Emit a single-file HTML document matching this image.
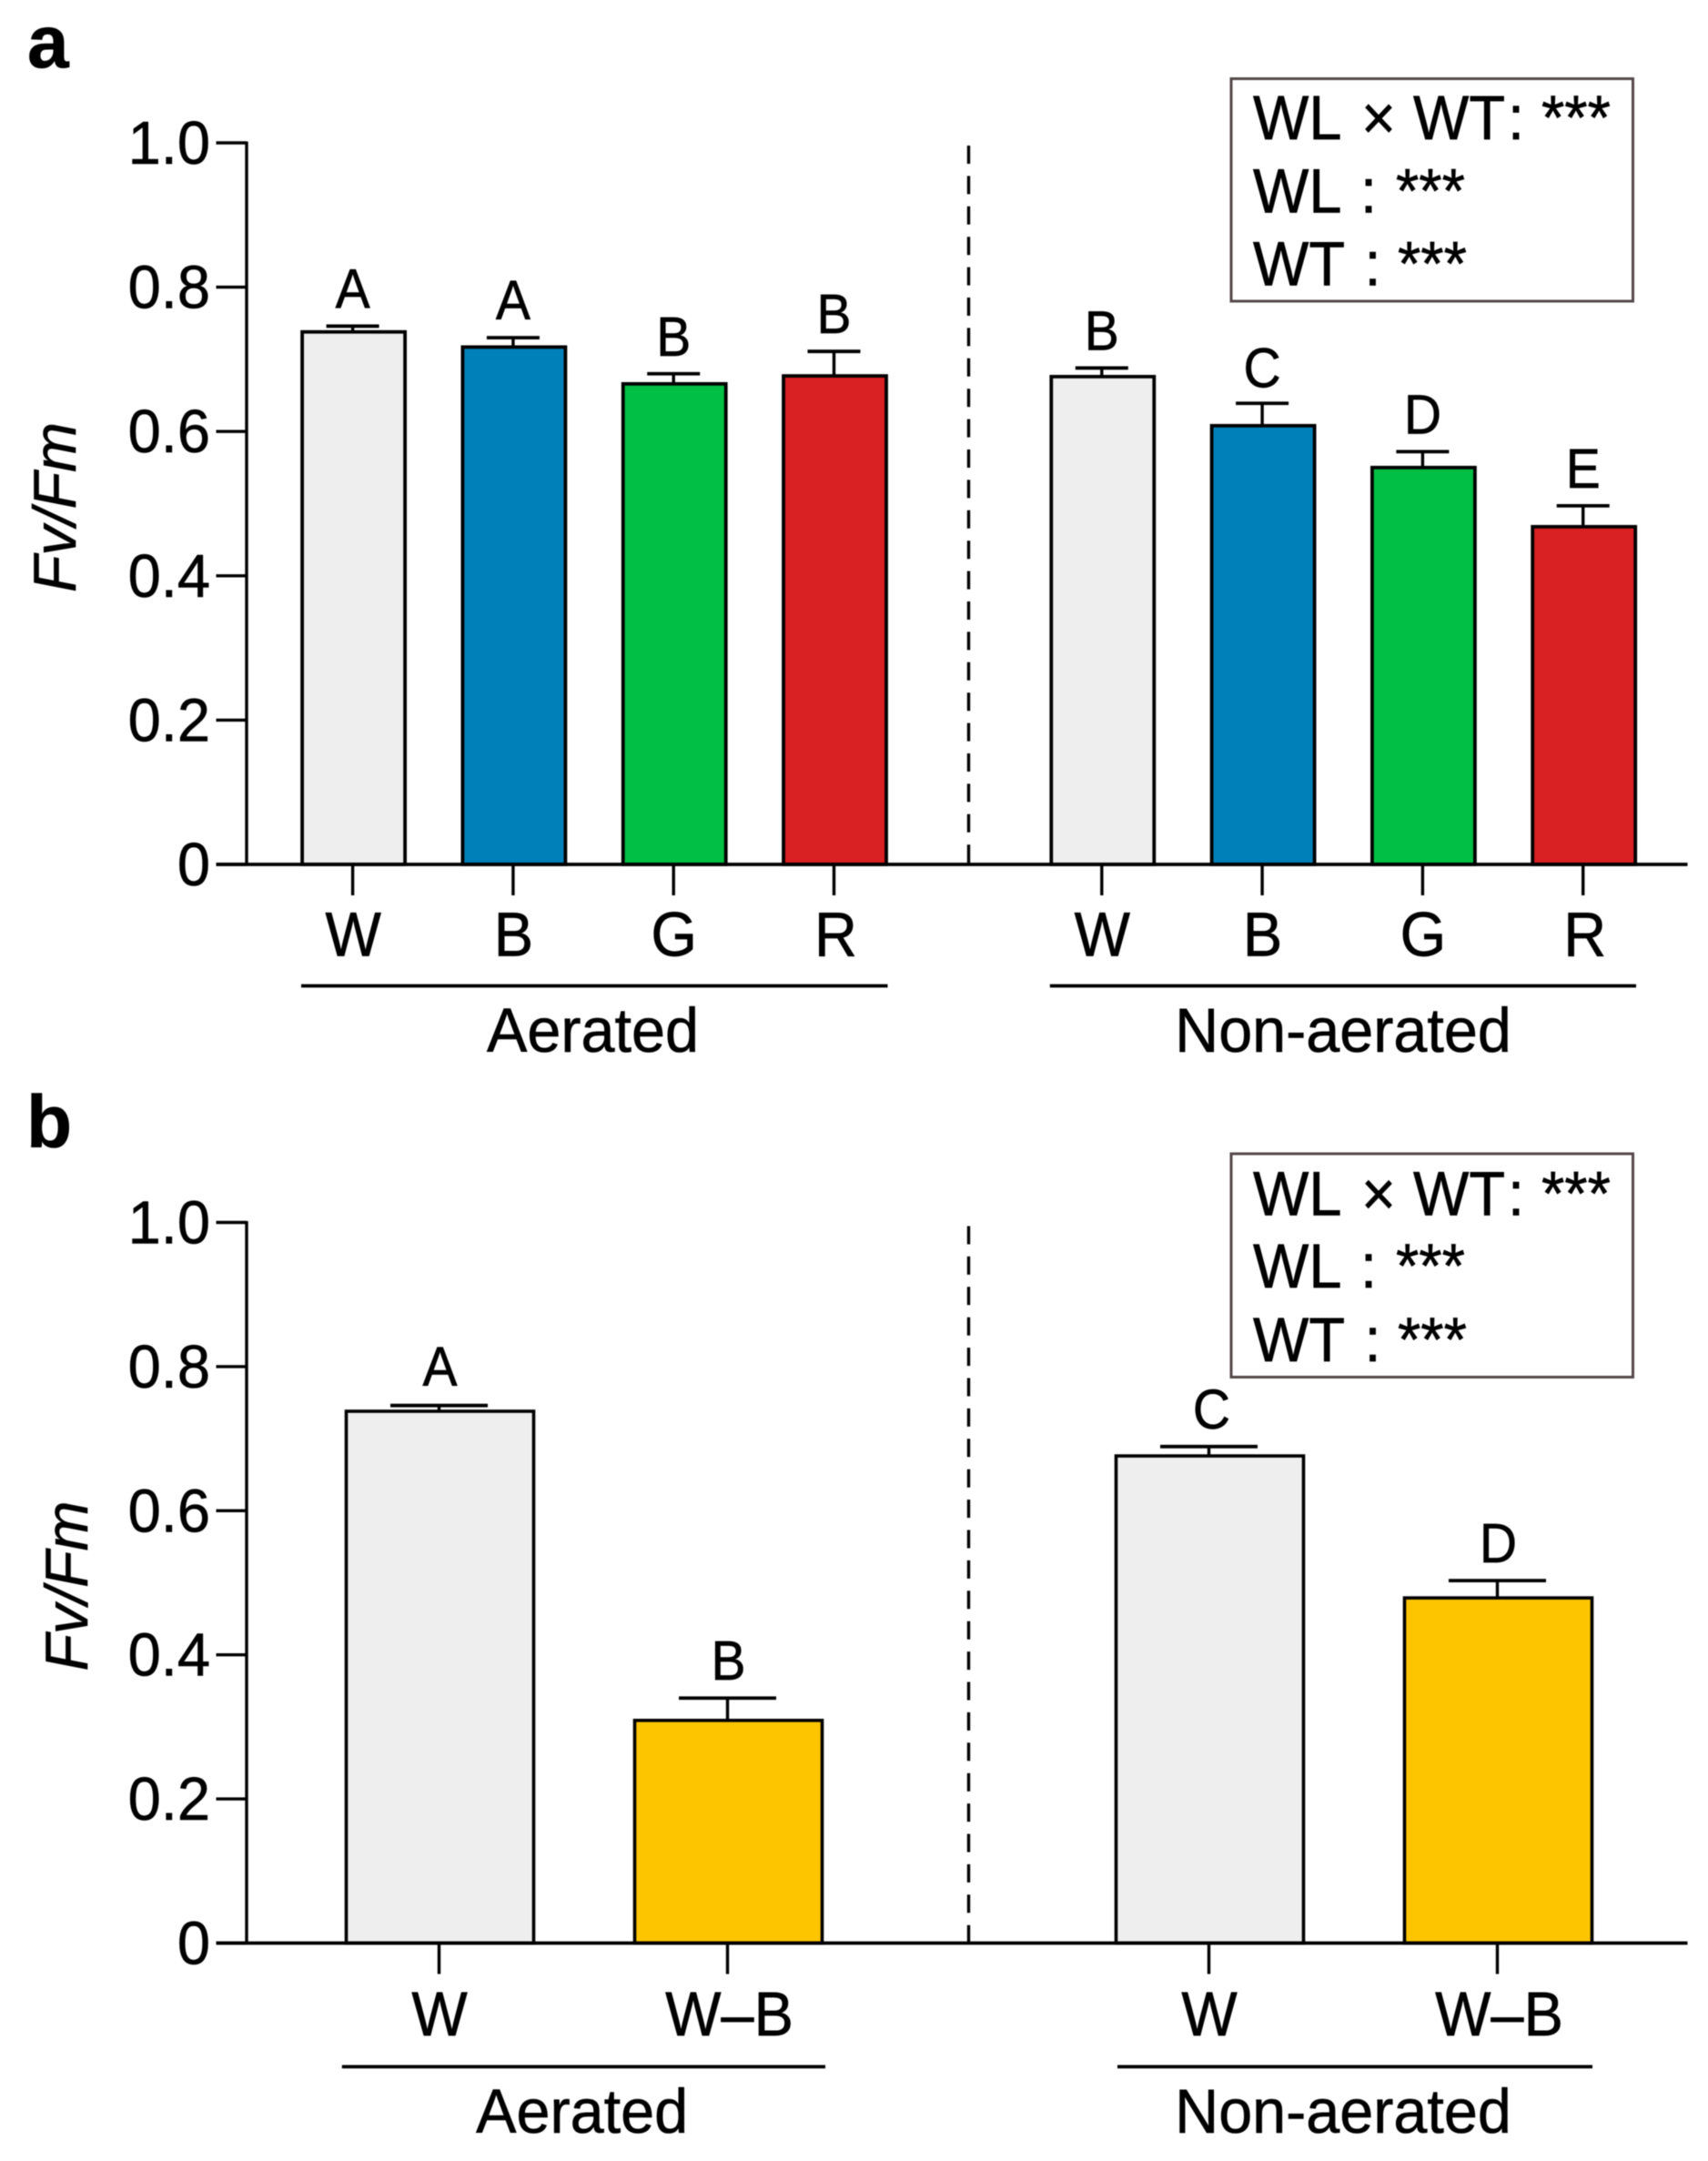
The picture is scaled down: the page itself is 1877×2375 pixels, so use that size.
<!DOCTYPE html>
<html lang="en">
<head>
<meta charset="utf-8">
<title>Fv/Fm bar charts</title>
<style>
  html, body { margin: 0; padding: 0; background: #fff; }
  svg { display: block; filter: blur(0.5px); }
  text { font-family: "Liberation Sans", Arial, sans-serif; fill: #000; stroke: #000; stroke-width: 0.6px; }
</style>
</head>
<body>
<svg id="figure" xmlns="http://www.w3.org/2000/svg" width="1877" height="2375" viewBox="0 0 1877 2375">
  <rect x="0" y="0" width="1877" height="2375" fill="#fff"/>
  <g id="panel-a"></g>
  <g id="panel-b"></g>

  <text x="30" y="74" font-size="82" font-weight="bold">a</text>
  <text x="29" y="1261" font-size="82" font-weight="bold">b</text>

  <text transform="translate(83,557.5) rotate(-90)" text-anchor="middle" font-size="66" font-style="italic">Fv/Fm</text>
  <text transform="translate(96,1743) rotate(-90)" text-anchor="middle" font-size="66" font-style="italic">Fv/Fm</text>

  <g>
    <rect x="1353" y="86.5" width="441.5" height="244.5" fill="#fff" stroke="#54484a" stroke-width="3"/>
    <text transform="translate(0,153) scale(1,1.05)" font-size="65"><tspan x="1377">WL</tspan><tspan x="1496">×</tspan><tspan x="1553">WT</tspan><tspan x="1657">:</tspan><tspan x="1694">***</tspan></text>
    <text transform="translate(0,233.4) scale(1,1.05)" font-size="65"><tspan x="1377">WL</tspan><tspan x="1495">:</tspan><tspan x="1534">***</tspan></text>
    <text transform="translate(0,313.5) scale(1,1.05)" font-size="65"><tspan x="1377">WT</tspan><tspan x="1499.5">:</tspan><tspan x="1536">***</tspan></text>
  </g>
  <g>
    <rect x="1353" y="1268" width="441.5" height="245.5" fill="#fff" stroke="#54484a" stroke-width="3"/>
    <text transform="translate(0,1335.5) scale(1,1.05)" font-size="65"><tspan x="1377">WL</tspan><tspan x="1496">×</tspan><tspan x="1553">WT</tspan><tspan x="1657">:</tspan><tspan x="1694">***</tspan></text>
    <text transform="translate(0,1415) scale(1,1.05)" font-size="65"><tspan x="1377">WL</tspan><tspan x="1495">:</tspan><tspan x="1534">***</tspan></text>
    <text transform="translate(0,1496) scale(1,1.05)" font-size="65"><tspan x="1377">WT</tspan><tspan x="1499.5">:</tspan><tspan x="1536">***</tspan></text>
  </g>
</svg>

<script>
// ---- shared axis tick labels ----
const yTickValues = [0, 0.2, 0.4, 0.6, 0.8, 1.0];
const yTickLabels = ["0", "0.2", "0.4", "0.6", "0.8", "1.0"];

// ---- panel a data ----
const aCategories = ["W", "B", "G", "R", "W", "B", "G", "R"];
const aValues = [0.738, 0.717, 0.666, 0.677, 0.676, 0.608, 0.550, 0.468];
const aErrors = [0.008, 0.013, 0.014, 0.034, 0.012, 0.031, 0.022, 0.029];
const aLetters = ["A", "A", "B", "B", "B", "C", "D", "E"];

// ---- panel b data ----
const bCategories = ["W", "W–B", "W", "W–B"];
const bValues = [0.738, 0.309, 0.676, 0.479];
const bErrors = [0.008, 0.031, 0.013, 0.024];
const bLetters = ["A", "B", "C", "D"];

// ---- appearance by category ----
const fillByCategory = { "W": "#eeeeee", "B": "#0080b8", "G": "#00bf44", "R": "#d92023", "W–B": "#fcc500" };

const NS = "http://www.w3.org/2000/svg";

function line(parent, x1, y1, x2, y2, width, name) {
  const el = document.createElementNS(NS, "line");
  el.setAttribute("x1", x1);
  el.setAttribute("y1", y1);
  el.setAttribute("x2", x2);
  el.setAttribute("y2", y2);
  el.setAttribute("stroke", "#000");
  el.setAttribute("stroke-width", width);
  
  
  parent.appendChild(el);
  return el;
}

function label(parent, str, x, y, size, stretch, anchor, name) {
  const el = document.createElementNS(NS, "text");
  el.setAttribute("transform", "translate(" + x + "," + y + ") scale(1," + stretch + ")");
  el.setAttribute("font-size", size);
  el.setAttribute("text-anchor", anchor);
  el.textContent = str;
  
  
  parent.appendChild(el);
  return el;
}

function drawPanel(cfg) {
  const g = document.getElementById(cfg.id);
  const yScale = function (v) { return cfg.yZero - (cfg.yZero - cfg.yTop) * v; };

  // divider
  const divider = line(g, 1064.5, cfg.dashTop, 1064.5, cfg.yZero, 3.4, "group-divider");
  divider.setAttribute("stroke-dasharray", "20 13.4");

  // bars and error bars
  cfg.values.forEach(function (v, i) {
    const cx = cfg.xScale(i);
    const top = yScale(v);
    const capY = yScale(v + cfg.errors[i]);
    line(g, cx, top, cx, capY, 3.4, "error-stem-" + i);
    line(g, cx - cfg.capWidth / 2, capY, cx + cfg.capWidth / 2, capY, 3.8, "error-cap-" + i);

    const bar = document.createElementNS(NS, "rect");
    bar.setAttribute("x", cx + 1 - cfg.barWidth / 2);
    bar.setAttribute("y", top);
    bar.setAttribute("width", cfg.barWidth);
    bar.setAttribute("height", yScale(0) - top);
    bar.setAttribute("fill", fillByCategory[cfg.categories[i]]);
    bar.setAttribute("stroke", "#000");
    bar.setAttribute("stroke-width", cfg.barStroke);
    
    
    g.appendChild(bar);

    label(g, cfg.letters[i], cx + cfg.letterDx(i), capY - cfg.letterGap(i), 57, 1.07, "middle", "significance-letter-" + i);
    line(g, cx, yScale(0), cx, cfg.yZero + 34, 3.4, "x-tick-" + i);
    label(g, cfg.categories[i], cx + cfg.labelOffset(i), cfg.catBaseline, 65, 1.05, "middle", "x-tick-label-" + i);
  });

  // y axis
  line(g, 271, cfg.yTop - 1.5, 271, cfg.yZero + 1.5, 3.4, "y-axis-line");
  yTickValues.forEach(function (t, i) {
    const y = yScale(t);
    line(g, 237.5, y, 271, y, 3.4, "y-tick-" + i);
    label(g, yTickLabels[i], 231, y + 23, 65, 1.03, "end", "y-tick-label-" + i);
  });

  // x axis
  line(g, 237.5, cfg.yZero, 1854.5, cfg.yZero, 3.8, "x-axis-line");

  // group brackets
  cfg.groups.forEach(function (grp) {
    line(g, grp.from, cfg.groupLineY, grp.to, cfg.groupLineY, 3.8, "group-line-" + grp.key);
    label(g, grp.title, grp.labelX, cfg.groupBaseline, 66.5, 1.03, "middle", "group-label-" + grp.key);
  });
}

drawPanel({
  id: "panel-a",
  categories: aCategories,
  values: aValues,
  errors: aErrors,
  letters: aLetters,
  yTop: 157,
  yZero: 950,
  dashTop: 160,
  xScale: function (i) { return i < 4 ? 387.6 + 176.3 * i : 1210.8 + 176.3 * (i - 4); },
  barWidth: 113,
  barStroke: 3.8,
  capWidth: 58,
  labelOffset: function (i) { return aCategories[i] === "R" ? 2 : 0.5; },
  letterDx: function (i) { return 0; },
  letterGap: function (i) { return aLetters[i] === "C" ? 18 : 20; },
  catBaseline: 1050.5,
  groupLineY: 1083.5,
  groupBaseline: 1155.8,
  groups: [
    { key: "aerated", title: "Aerated", from: 331, to: 975.5, labelX: 651.5 },
    { key: "non-aerated", title: "Non-aerated", from: 1153.8, to: 1798, labelX: 1476 }
  ]
});

drawPanel({
  id: "panel-b",
  categories: bCategories,
  values: bValues,
  errors: bErrors,
  letters: bLetters,
  yTop: 1343.5,
  yZero: 2135.5,
  dashTop: 1347.5,
  xScale: function (i) { return i < 2 ? 482.5 + 317 * i : 1328.5 + 317 * (i - 2); },
  barWidth: 206,
  barStroke: 3.6,
  capWidth: 107,
  labelOffset: function (i) { return bCategories[i] === "W" ? 0.5 : 2; },
  letterDx: function (i) { return bLetters[i] === "C" ? 3 : 1; },
  letterGap: function (i) { return bLetters[i] === "A" ? 21.5 : 20; },
  catBaseline: 2237,
  groupLineY: 2271.4,
  groupBaseline: 2344,
  groups: [
    { key: "aerated", title: "Aerated", from: 375.8, to: 907, labelX: 639.6 },
    { key: "non-aerated", title: "Non-aerated", from: 1228, to: 1750, labelX: 1476 }
  ]
});
</script>
</body>
</html>
